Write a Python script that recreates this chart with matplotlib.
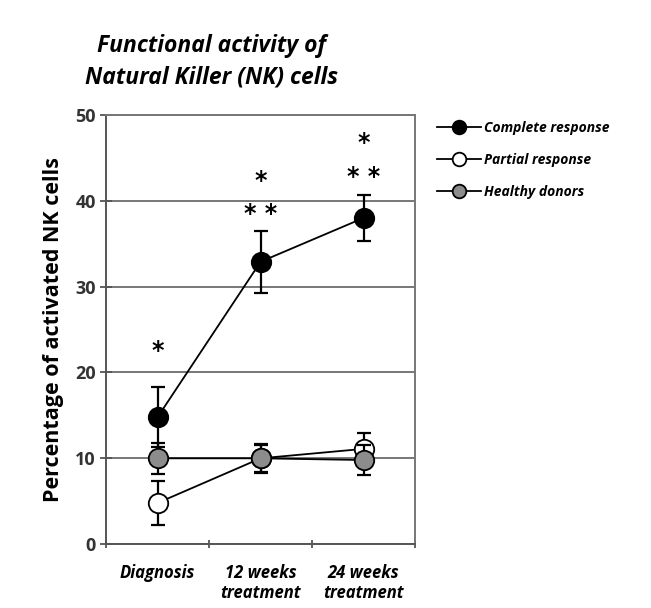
import matplotlib.pyplot as plt

categories = ["Diagnosis", "12 weeks\ntreatment", "24 weeks\ntreatment"]
complete = [14.8, 32.9, 38.0]
complete_err = [3.5, 3.6, 2.7]
partial = [4.8, 10.0, 11.1]
partial_err = [2.6, 1.6, 1.8]
healthy = [10.0, 10.0, 9.8]
healthy_err = [1.8, 1.7, 1.7]
# significance marks: (category index, y, text)
stars = [(0, 22.5, "*"), (1, 42.3, "*"), (1, 38.5, "* *"), (2, 46.7, "*"), (2, 42.8, "* *")]

plt.rcParams["font.family"] = ["Open Sans", "DejaVu Sans"]

fig = plt.figure(figsize=(6.51, 6.08), dpi=100)
ax = fig.add_axes([0.163, 0.105, 0.4747, 0.706])

x = [1, 2, 3]
series = [
    ("Complete response", complete, complete_err, "black"),
    ("Partial response", partial, partial_err, "white"),
    ("Healthy donors", healthy, healthy_err, "#8c8c8c"),
]
handles = []
for i, (name, vals, err, fc) in enumerate(series):
    ax.errorbar(x, vals, yerr=err, fmt="none", ecolor="black", elinewidth=1.6,
                capsize=5, capthick=1.6, zorder=3 + i)
    (h,) = ax.plot(x, vals, "-o", color="black", lw=1.3, markersize=14,
                   markerfacecolor=fc, markeredgecolor="black",
                   markeredgewidth=1.3, zorder=3 + i, label=name)
    handles.append(h)

for ci, y, s in stars:
    ax.text(x[ci], y, s, ha="center", va="center", fontsize=17,
            fontweight="bold", family="DejaVu Sans")

ax.set_xlim(0.5, 3.5)
ax.set_ylim(0, 50)
ax.set_yticks(range(0, 51, 10))
ax.set_xticks([0.5, 1.5, 2.5, 3.5])
ax.set_xticklabels([])
ax.set_xticks(x, minor=True)
ax.set_xticklabels(categories, minor=True, fontstyle="italic",
                   fontweight="bold", fontsize=12, linespacing=1.2)
ax.tick_params(axis="x", which="minor", length=0, pad=14)
ax.tick_params(axis="x", which="major", length=6, direction="inout",
               color="#555555", width=1.3)
ax.tick_params(axis="y", length=8, direction="inout", labelsize=13,
               color="#555555", width=1.3, labelcolor="#333333")
for lab in ax.get_yticklabels():
    lab.set_fontweight("bold")

ax.yaxis.grid(True, color="#777777", lw=1.4)
ax.set_axisbelow(True)
for side in ["top", "right"]:
    ax.spines[side].set_color("#777777")
    ax.spines[side].set_linewidth(1.4)
for side in ["left", "bottom"]:
    ax.spines[side].set_color("#555555")
    ax.spines[side].set_linewidth(1.4)

ax.set_ylabel("Percentage of activated NK cells", fontsize=15.5, fontweight="bold",
              labelpad=8)
fig.text(0.325, 0.898, "Functional activity of\nNatural Killer (NK) cells",
         ha="center", va="center", fontsize=16.5, fontweight="bold",
         fontstyle="italic", linespacing=1.4)

leg = ax.legend(handles=handles, loc="upper left", bbox_to_anchor=(1.03, 1.015),
                frameon=False, handlelength=3.2, handletextpad=0.2,
                labelspacing=1.3, markerscale=0.7,
                prop={"style": "italic", "weight": "bold", "size": 10})

fig.savefig("out.png", dpi=100)
